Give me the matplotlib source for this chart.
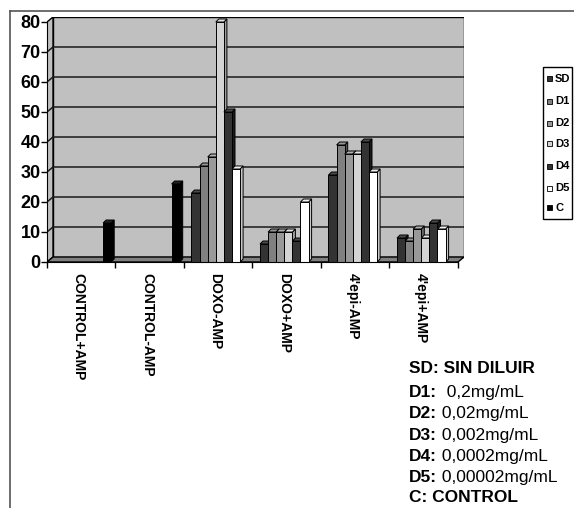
import matplotlib
matplotlib.use('Agg')
import matplotlib.pyplot as plt
from matplotlib.patches import Polygon, Rectangle
from matplotlib.lines import Line2D

plt.rcParams['font.family'] = ['Liberation Sans', 'DejaVu Sans']

# ---------------- data ----------------
categories = ["CONTROL+AMP", "CONTROL-AMP", "DOXO-AMP", "DOXO+AMP", "4'epi-AMP", "4'epi+AMP"]
series_names = ["SD", "D1", "D2", "D3", "D4", "D5", "C"]
SD = [None, None, 23, 6, 29, 8]
D1 = [None, None, 32, 10, 39, 7]
D2 = [None, None, 35, 10, 36, 11]
D3 = [None, None, 80, 10, 36, 8]
D4 = [None, None, 50, 7, 40, 13]
D5 = [None, None, 31, 20, 30, 11]
C = [13, 26, None, None, None, None]
y_ticks = [0, 10, 20, 30, 40, 50, 60, 70, 80]
note_bold = ["SD: SIN DILUIR", "D1:", "D2:", "D3:", "D4:", "D5:", "C: CONTROL"]
note_regular = ["", "  0,2mg/mL", " 0,02mg/mL", " 0,002mg/mL", " 0,0002mg/mL", " 0,00002mg/mL", ""]

series_values = [SD, D1, D2, D3, D4, D5, C]
colors = ['#333333', '#808080', '#999999', '#d4d4d4', '#333333', '#ffffff', '#000000']
side_colors = ['#1a1a1a', '#555555', '#6a6a6a', '#a0a0a0', '#1a1a1a', '#c8c8c8', '#000000']
top_colors = ['#4a4a4a', '#969696', '#b0b0b0', '#e4e4e4', '#4a4a4a', '#f0f0f0', '#222222']

# ---------------- figure ----------------
W, H = 574, 508
fig = plt.figure(figsize=(W / 100, H / 100), dpi=100)

px_cat = 68.5   # pixels per category
px_val = 3.0    # pixels per unit
dxw = 6.0 / px_cat   # wall depth (category units)
dyw = 5.0 / px_val   # wall depth (value units)
bdx = 3.0 / px_cat   # bar depth
bdy = 3.0 / px_val

x0_px, y0_px = 47, 262
xmax = 6 + dxw
ymax = 80 + dyw
ax = fig.add_axes([x0_px / W, (H - y0_px) / H, xmax * px_cat / W, ymax * px_val / H])
ax.set_xlim(0, xmax)
ax.set_ylim(0, ymax)
ax.patch.set_visible(False)

wall_c = '#c0c0c0'
# back wall
ax.add_patch(Rectangle((dxw, dyw), 6, 80, facecolor=wall_c, edgecolor='black', lw=1, zorder=0.5))
# left wall
ax.add_patch(Polygon([(0, 0), (0, 80), (dxw, 80 + dyw), (dxw, dyw)], closed=True,
                     facecolor=wall_c, edgecolor='black', lw=1, zorder=0.6))
# floor
ax.add_patch(Polygon([(0, 0), (6, 0), (6 + dxw, dyw), (dxw, dyw)], closed=True,
                     facecolor='#808080', edgecolor='black', lw=1, zorder=0.7))
# gridlines
for v in y_ticks[1:-1]:
    ax.plot([dxw, 6 + dxw], [v + dyw, v + dyw], color='#1a1a1a', lw=1.1, zorder=0.65)
    ax.plot([0, dxw], [v, v + dyw], color='#1a1a1a', lw=1.1, zorder=0.65)

# bars
n_series = len(series_values)
bw = 8.1 / px_cat
gap = 7.5 / px_cat
z = 2
for i in range(len(categories)):
    for j in range(n_series):
        v = series_values[j][i]
        if v is None:
            continue
        x = i + gap + j * bw
        # side face
        ax.add_patch(Polygon([(x + bw, 0), (x + bw + bdx, bdy), (x + bw + bdx, v + bdy), (x + bw, v)],
                             closed=True, facecolor=side_colors[j], edgecolor='black', lw=0.7, zorder=z))
        # top face
        ax.add_patch(Polygon([(x, v), (x + bw, v), (x + bw + bdx, v + bdy), (x + bdx, v + bdy)],
                             closed=True, facecolor=top_colors[j], edgecolor='black', lw=0.7, zorder=z))
        # front face
        ax.bar([x], [v], width=bw, align='edge', color=colors[j], edgecolor='black', lw=0.7, zorder=z + 0.5)
        z += 1

# axes / spines
for s in ['top', 'right']:
    ax.spines[s].set_visible(False)
ax.spines['left'].set_bounds(0, 80)
ax.spines['bottom'].set_bounds(0, 6)
ax.spines['left'].set_zorder(50)
ax.spines['bottom'].set_zorder(50)

ax.set_yticks(y_ticks)
ax.set_yticklabels([str(t) for t in y_ticks], fontsize=13, fontweight='bold')
ax.tick_params(axis='y', length=4, width=1, pad=0.5, direction='out')

ax.set_xticks([i + 0.46 for i in range(len(categories))])
ax.set_xticklabels(categories, rotation=270, fontsize=10, fontweight='bold')
ax.set_xticks(range(7), minor=True)
ax.tick_params(axis='x', which='major', length=0, pad=8)
ax.tick_params(axis='x', which='minor', length=4.5, width=1, direction='out')

# legend (manual, figure pixel coordinates)
def fx(p):
    return p / W

def fy(p):
    return 1 - p / H

fig.add_artist(Rectangle((fx(543), fy(219)), fx(572) - fx(543), fy(67) - fy(219),
                         transform=fig.transFigure, facecolor='white', edgecolor='black', lw=1))
leg_y = [79, 101, 123, 144, 166, 188, 208]
for j, name in enumerate(series_names):
    fig.add_artist(Rectangle((fx(546.5), fy(leg_y[j] + 2.5)), fx(5), 5 / H,
                             transform=fig.transFigure, facecolor=colors[j],
                             edgecolor='black', lw=0.6))
    fig.text(fx(555), fy(leg_y[j]), name, fontsize=8, fontweight='bold', va='center', ha='left')

# notes bottom right (baseline positions)
overlay = fig.add_axes([0, 0, 1, 1])
overlay.set_axis_off()
overlay.patch.set_visible(False)
note_base = [373, 397, 418, 440, 461, 482, 502]
for k in range(len(note_bold)):
    t = overlay.text(fx(409), fy(note_base[k]), note_bold[k], fontsize=12.5, fontweight='bold',
                     va='baseline', ha='left', transform=overlay.transAxes)
    if note_regular[k]:
        overlay.annotate(note_regular[k], xy=(1, fy(note_base[k])),
                         xycoords=(t, overlay.transAxes), va='baseline', ha='left',
                         fontsize=12.5)

# chart-area border fragments
fig.add_artist(Line2D([fx(10), 1], [fy(11), fy(11)], color='#555555', lw=1.2, transform=fig.transFigure))
fig.add_artist(Line2D([fx(10), fx(10)], [fy(11), 0], color='#555555', lw=1.2, transform=fig.transFigure))

fig.savefig('out.png', dpi=100, facecolor='white')
